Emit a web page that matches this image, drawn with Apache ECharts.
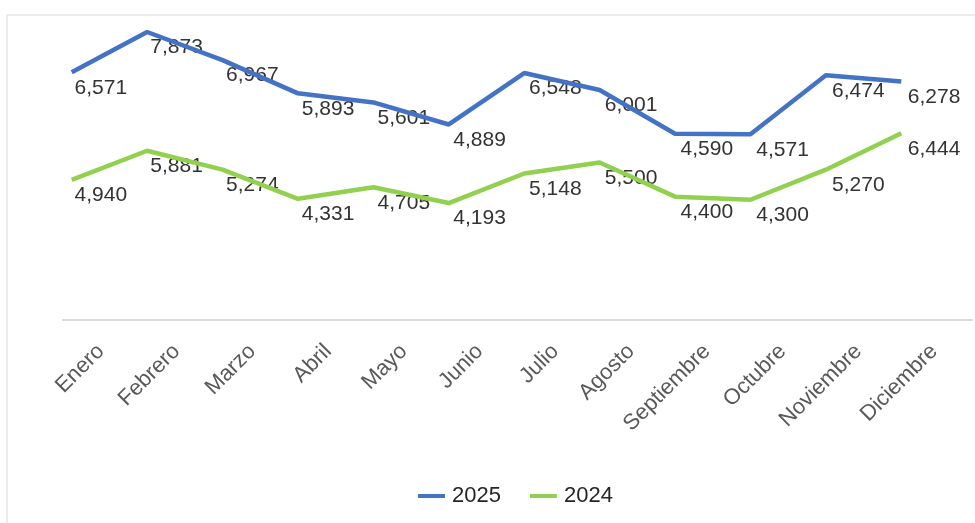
<!DOCTYPE html>
<html>
<head>
<meta charset="utf-8">
<script src="https://cdn.jsdelivr.net/npm/echarts@6/dist/echarts.min.js"></script>
<style>
    html, body { margin: 0; padding: 0; background: #fff; }
    #chart { width: 975px; height: 523px; }
</style>
</head>
<body>
<div id="chart"></div>
<script>
const months = ['Enero', 'Febrero', 'Marzo', 'Abril', 'Mayo', 'Junio', 'Julio', 'Agosto', 'Septiembre', 'Octubre', 'Noviembre', 'Diciembre']
const values2025 = [6571, 7873, 6967, 5893, 5601, 4889, 6548, 6001, 4590, 4571, 6474, 6278]
const values2024 = [4940, 5881, 5274, 4331, 4705, 4193, 5148, 5500, 4400, 4300, 5270, 6444]

const blue = '#4472C4'
const green = '#92D050'
const font = 'Liberation Sans'

const chart = echarts.init(document.getElementById('chart'))

// the lines sit a little left of their labels and the axis, like in the source sheet
const gridTop = 20
const gridBottom = 203

const hiddenY = (min, max, grid) => ({
    type: 'value', gridIndex: grid, min: min, max: max, show: false,
    splitLine: { show: false }
})

const labelSeries = (name, data, yIndex) => ({
    name: name,
    type: 'line',
    xAxisIndex: 0,
    yAxisIndex: yIndex,
    data: data,
    symbol: 'circle',
    symbolSize: 0.1,
    showSymbol: true,
    itemStyle: { color: 'rgba(0,0,0,0)' },
    lineStyle: { opacity: 0 },
    silent: true,
    z: 1,
    label: {
        show: true,
        position: 'bottom',
        distance: 5,
        color: '#333333',
        fontFamily: font,
        fontSize: 21,
        formatter: p => p.value.toLocaleString('en-US')
    }
})

const lineSeries = (name, data, yIndex, color) => ({
    name: name,
    type: 'line',
    xAxisIndex: 1,
    yAxisIndex: yIndex,
    data: data,
    symbol: 'none',
    z: 3,
    lineStyle: { color: color, width: 4.5 },
    itemStyle: { color: color }
})

const option = {
    animation: false,
    graphic: [{
        type: 'rect',
        shape: { x: 7, y: 15, width: 1000, height: 600 },
        style: { fill: 'none', stroke: '#e6e6e6', lineWidth: 1.5 },
        silent: true
    }],
    grid: [
        { left: 63, right: 3, top: gridTop, bottom: gridBottom },
        { left: 34, right: 36, top: gridTop, bottom: gridBottom }
    ],
    legend: {
        data: ['2025', '2024'],
        left: 413,
        top: 480,
        icon: 'rect',
        itemWidth: 27,
        itemHeight: 4,
        itemGap: 29,
        textStyle: { fontFamily: font, fontSize: 22, color: '#262626', padding: [0, 0, 0, 2] }
    },
    xAxis: [{
        type: 'category',
        gridIndex: 0,
        data: months,
        axisLine: { onZero: false, lineStyle: { color: '#d9d9d9', width: 2 } },
        axisTick: { show: false },
        axisLabel: {
            rotate: 45,
            margin: 28,
            interval: 0,
            color: '#595959',
            fontFamily: font,
            fontSize: 22
        }
    }, {
        type: 'category',
        gridIndex: 1,
        data: months,
        show: false,
        axisLine: { onZero: false }
    }],
    yAxis: [
        hiddenY(-1420, 8260, 0),
        hiddenY(420, 10100, 0),
        hiddenY(-1420, 8260, 1),
        hiddenY(420, 10100, 1)
    ],
    series: [
        lineSeries('2025', values2025, 2, blue),
        lineSeries('2024', values2024, 3, green),
        labelSeries('2025 etiquetas', values2025, 0),
        labelSeries('2024 etiquetas', values2024, 1)
    ]
}

chart.setOption(option)
</script>
</body>
</html>
